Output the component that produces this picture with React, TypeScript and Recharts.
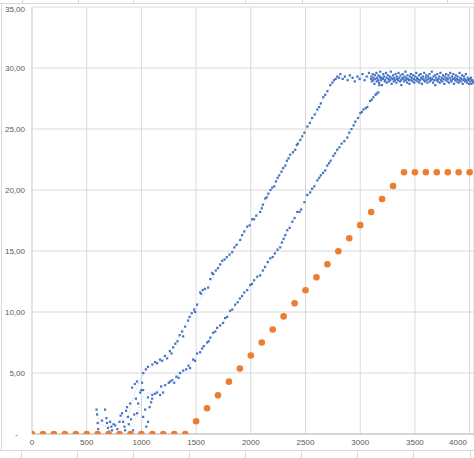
import { ScatterChart, Scatter, XAxis, YAxis, CartesianGrid } from "recharts";

const xTicks = [0, 500, 1000, 1500, 2000, 2500, 3000, 3500, 4000];
const yTicks = [0, 5, 10, 15, 20, 25, 30, 35];

// orange series: one value every 100 on x
const orangeX = [
  0, 100, 200, 300, 400, 500, 600, 700, 800, 900, 1000, 1100, 1200, 1300, 1400,
  1500, 1600, 1700, 1800, 1900, 2000, 2100, 2200, 2300, 2400, 2500, 2600, 2700,
  2800, 2900, 3000, 3100, 3200, 3300, 3400, 3500, 3600, 3700, 3800, 3900, 4000,
];
const orangeY = [
  0, 0, 0, 0, 0, 0, 0, 0, 0, 0, 0, 0, 0, 0, 0,
  1.04, 2.11, 3.17, 4.29, 5.36, 6.43, 7.5, 8.57, 9.64, 10.71, 11.78, 12.84, 13.91,
  14.98, 16.05, 17.12, 18.19, 19.26, 20.33, 21.45, 21.45, 21.45, 21.45, 21.45, 21.45, 21.45,
];

// blue series in pieces
const blueStart: [number, number][] = [
  [590, 2.0], [595, 1.6], [600, 0.9], [605, 0.4], [640, 1.1], [668, 2.0], [680, 1.3],
  [686, 0.9], [695, 0.5], [705, 0.2], [714, 1.0], [725, 0.6], [732, 0.3], [745, 0.8],
  [760, 0.7], [780, 0.4], [800, 1.0], [810, 1.5], [823, 1.7], [833, 1.0], [845, 0.6],
  [851, 0.3], [860, 1.9], [869, 2.2], [878, 1.4], [885, 0.8], [897, 2.5], [905, 1.2],
  [924, 0.3], [935, 1.6], [950, 2.9], [961, 1.7], [970, 2.5], [988, 3.4], [1016, 1.4],
  [1034, 2.0], [1045, 0.6], [1061, 1.0], [1075, 2.2], [1089, 2.6], [1098, 2.9],
];
const blueRiseA: [number, number][] = [
  [915, 3.8], [940, 4.1], [960, 4.3], [1006, 4.2], [1016, 5.0], [1040, 5.3], [1060, 5.5],
  [1100, 5.7], [1125, 5.9], [1144, 5.8], [1170, 6.1], [1190, 6.0], [1215, 6.4], [1235, 6.2],
  [1260, 6.8], [1275, 6.6], [1290, 7.1], [1310, 7.4], [1330, 7.6], [1350, 8.1], [1372, 8.4],
  [1382, 8.0], [1400, 8.8], [1427, 9.3], [1440, 9.6], [1460, 9.9], [1482, 10.2], [1491, 10.0],
  [1509, 10.6], [1537, 11.6], [1546, 11.5], [1560, 11.8], [1580, 11.9], [1610, 12.0],
  [1630, 12.7], [1647, 13.2], [1656, 13.1], [1680, 13.4], [1700, 13.6], [1720, 13.9],
  [1738, 14.2], [1760, 14.3], [1780, 14.5], [1805, 14.7], [1830, 14.9], [1850, 15.3],
  [1870, 15.5], [1903, 15.9], [1920, 16.3], [1940, 16.6], [1967, 17.0], [1990, 17.1],
  [2013, 17.6], [2030, 17.6], [2050, 17.9], [2086, 18.2], [2100, 18.5], [2110, 18.8],
  [2132, 19.3], [2145, 19.4], [2160, 19.7], [2180, 20.0], [2196, 20.2], [2215, 20.3],
  [2230, 20.7], [2245, 21.0], [2260, 21.2], [2280, 21.5], [2296, 21.8], [2315, 22.0],
  [2330, 22.4], [2345, 22.6], [2360, 22.9], [2385, 23.1], [2406, 23.3], [2420, 23.7],
  [2430, 23.8], [2452, 24.1], [2470, 24.4], [2490, 24.7], [2516, 25.2], [2540, 25.5],
  [2560, 25.9], [2585, 26.2], [2608, 26.6], [2625, 26.8], [2640, 27.1], [2662, 27.6],
  [2680, 27.8], [2700, 28.1], [2726, 28.6], [2745, 28.8], [2760, 29.0], [2775, 29.1],
  [2790, 29.3], [2805, 29.2], [2818, 29.5],
];
const blueRiseB: [number, number][] = [
  [1000, 3.6], [1016, 3.6], [1060, 3.0], [1100, 3.2], [1125, 3.3], [1144, 3.4], [1171, 3.2],
  [1180, 3.9], [1198, 3.4], [1217, 4.0], [1250, 4.2], [1262, 4.3], [1281, 4.4], [1300, 4.2],
  [1320, 4.7], [1340, 4.6], [1354, 5.0], [1382, 5.2], [1410, 5.3], [1430, 5.6], [1445, 5.4],
  [1473, 6.1], [1490, 6.0], [1509, 6.6], [1537, 6.7], [1555, 7.0], [1570, 7.2], [1601, 7.5],
  [1615, 7.6], [1630, 7.9], [1656, 8.3], [1675, 8.4], [1692, 8.7], [1720, 8.9], [1747, 9.1],
  [1765, 9.5], [1784, 9.6], [1810, 10.1], [1830, 10.2], [1857, 10.6], [1880, 10.8],
  [1900, 11.1], [1920, 11.3], [1940, 11.6], [1967, 11.8], [1994, 12.2], [2010, 12.3],
  [2030, 12.6], [2059, 12.9], [2086, 13.0], [2110, 13.4], [2130, 13.7], [2155, 14.1],
  [2178, 14.4], [2200, 14.5], [2220, 14.8], [2245, 15.1], [2269, 15.3], [2285, 15.7],
  [2300, 16.0], [2315, 16.3], [2333, 16.7], [2355, 16.9], [2380, 17.4], [2400, 17.7],
  [2425, 18.2], [2445, 18.2], [2461, 18.4], [2490, 19.0], [2516, 19.6], [2543, 19.8],
  [2560, 20.1], [2580, 20.3], [2608, 20.8], [2625, 21.0], [2640, 21.2], [2660, 21.4],
  [2680, 21.6], [2699, 22.0], [2715, 22.2], [2730, 22.4], [2754, 22.8], [2770, 23.0],
  [2790, 23.3], [2810, 23.5], [2830, 23.8], [2855, 24.0], [2882, 24.3], [2900, 24.7],
  [2920, 25.0], [2940, 25.3], [2955, 25.6], [2980, 25.9], [3001, 26.3], [3015, 26.4],
  [3030, 26.6], [3050, 26.7], [3065, 26.8], [3090, 27.3], [3105, 27.4], [3120, 27.6],
  [3140, 27.8], [3150, 27.9], [3166, 28.0], [3175, 28.6], [3184, 29.2],
];
const bluePlateau: [number, number][] = [
  [2840, 29.1], [2860, 29.3], [2885, 29.0], [2905, 29.4], [2930, 29.2], [2950, 28.9],
  [2975, 29.3], [2995, 29.1], [3020, 29.5], [3040, 29.0], [3060, 29.3], [3080, 29.6],
  [3100, 29.1], [3102, 29.3], [3106, 28.9], [3115, 29.5], [3119, 29.0], [3121, 29.2],
  [3130, 28.7], [3134, 29.4], [3139, 29.1], [3148, 29.6], [3151, 28.9], [3155, 29.2],
  [3164, 29.0], [3166, 29.4], [3172, 28.8], [3179, 29.3], [3183, 29.7], [3190, 29.0],
  [3197, 29.2], [3199, 28.6], [3208, 29.1], [3211, 29.5], [3218, 29.3], [3224, 28.9],
  [3227, 29.0], [3236, 29.6], [3240, 29.2], [3243, 28.8], [3252, 29.4], [3258, 29.1],
  [3261, 28.9], [3269, 29.3], [3274, 29.0], [3280, 29.7], [3285, 29.2], [3287, 28.7],
  [3296, 29.1], [3301, 29.4], [3306, 28.9], [3312, 29.2], [3318, 29.0], [3323, 29.5],
  [3330, 28.8], [3335, 29.3], [3338, 29.1], [3347, 29.0], [3350, 29.6], [3357, 29.2],
  [3362, 28.9], [3368, 29.4], [3374, 29.0], [3376, 28.6], [3385, 29.2], [3388, 29.5],
  [3395, 29.1], [3401, 28.9], [3404, 29.3], [3413, 29.7], [3418, 29.0], [3420, 29.2],
  [3429, 28.8], [3433, 29.4], [3438, 29.1], [3446, 29.0], [3450, 28.7], [3455, 29.3],
  [3463, 29.5], [3467, 29.0], [3471, 29.2], [3480, 28.9], [3484, 29.4], [3490, 29.1],
  [3494, 28.8], [3502, 29.3], [3507, 29.0], [3512, 29.6], [3519, 29.2], [3524, 28.9],
  [3528, 29.1], [3537, 29.4], [3540, 28.8], [3547, 29.0], [3553, 29.5], [3557, 29.2],
  [3564, 28.7], [3570, 29.1], [3573, 29.3], [3582, 29.0], [3585, 29.6], [3591, 28.9],
  [3598, 29.2], [3603, 29.4], [3607, 29.0], [3615, 28.8], [3619, 29.3], [3624, 29.1],
  [3633, 29.5], [3636, 28.9], [3641, 29.2], [3648, 29.0], [3654, 29.7], [3659, 29.1],
  [3666, 28.8], [3670, 29.3], [3677, 29.0], [3683, 29.4], [3686, 28.6], [3695, 29.2],
  [3698, 29.0], [3704, 29.5], [3711, 28.9], [3716, 29.1], [3722, 29.3], [3727, 28.8],
  [3733, 29.6], [3740, 29.0], [3744, 29.2], [3749, 28.9], [3757, 29.4], [3761, 29.1],
  [3768, 28.7], [3772, 29.3], [3779, 29.0], [3785, 29.5], [3788, 29.2], [3797, 28.9],
  [3800, 29.1], [3806, 29.4], [3813, 28.8], [3818, 29.2], [3823, 29.6], [3830, 29.0],
  [3836, 28.9], [3839, 29.3], [3848, 29.1], [3851, 29.5], [3857, 28.7], [3864, 29.2],
  [3868, 29.0], [3874, 29.4], [3881, 28.9], [3886, 29.1], [3890, 29.3], [3899, 28.8],
  [3902, 29.0], [3908, 29.6], [3915, 29.2], [3919, 28.9], [3925, 29.1], [3931, 29.4],
  [3937, 28.7], [3942, 29.0], [3949, 29.3], [3953, 29.1], [3959, 28.9], [3966, 29.5],
  [3970, 29.0], [3976, 28.8], [3983, 29.2], [3987, 29.0], [3994, 28.7], [4000, 29.1],
  [4006, 28.9], [4013, 29.2], [4016, 28.7], [4022, 29.0], [4029, 28.8], [4035, 28.9],
];

// faint dotted paths running along the two blue branches
const trendA: [number, number][] = [
  [600, 1.8], [620, 0.8], [700, 0.6], [760, 0.7], [820, 1.2], [880, 1.5], [920, 2.8],
  [960, 3.9], [1000, 4.6], [1060, 5.4], [1140, 5.8], [1230, 6.3], [1300, 7.3], [1400, 8.9],
  [1500, 10.4], [1600, 11.9], [1700, 13.6], [1800, 14.6], [1900, 15.9], [2000, 17.4],
  [2100, 18.5], [2200, 20.2], [2300, 21.8], [2400, 23.2], [2500, 24.9], [2600, 26.4],
  [2700, 28.1], [2790, 29.2], [3000, 29.2], [3400, 29.1], [4040, 29.0],
];
const trendB: [number, number][] = [
  [900, 0.6], [960, 1.5], [1000, 2.7], [1040, 3.4], [1100, 3.3], [1200, 3.9], [1300, 4.5],
  [1400, 5.2], [1500, 6.4], [1600, 7.5], [1700, 8.7], [1800, 9.8], [1900, 11.1],
  [2000, 12.2], [2100, 13.2], [2200, 14.6], [2300, 16.0], [2400, 17.8], [2500, 19.2],
  [2600, 20.6], [2700, 21.9], [2800, 23.4], [2900, 24.6], [3000, 26.2], [3100, 27.4],
  [3170, 28.4], [3190, 29.1],
];

const toPoints = (pts: [number, number][]) => pts.map(([x, y]) => ({ x, y }));
const orangeData = orangeX.map((x, i) => ({ x, y: orangeY[i] }));
const blueData = toPoints([...blueStart, ...blueRiseA, ...blueRiseB, ...bluePlateau]);

const BLUE = "#4472C4";
const ORANGE = "#ED7D31";
const GRID = "#d9d9d9";
const TEXT = "#595959";
const FONT = "'Liberation Sans', Arial, sans-serif";

const bottomTicks = [21, 77, 133, 189, 245, 301, 357, 413, 470];
const topTicks = [22, 78, 133, 245, 302, 447];

function YTick(props: any) {
  const { x, y, payload } = props;
  const v = payload.value as number;
  const label = v === 0 ? "-" : v.toFixed(2).replace(".", ",");
  return (
    <text x={v === 0 ? x - 7 : x} y={y} dy={3} textAnchor="end" fontSize={8} fill={TEXT} fontFamily={FONT}>
      {label}
    </text>
  );
}

function XTick(props: any) {
  const { x, y, payload } = props;
  return (
    <text x={x} y={y} dy={6} textAnchor="middle" fontSize={8} fill={TEXT} fontFamily={FONT}>
      {payload.value}
    </text>
  );
}

const BlueMark = (p: any) => <rect x={p.cx - 1.1} y={p.cy - 1.1} width={2.2} height={2.2} fill={BLUE} />;
const OrangeMark = (p: any) => <circle cx={p.cx} cy={p.cy} r={3.3} fill={ORANGE} />;
const NoMark = () => <g />;

export default function App() {
  return (
    <div style={{ position: "absolute", left: 0, top: 0, width: 474, height: 458, background: "#fff", overflow: "hidden" }}>
      {/* chart frame and sheet cell lines around it */}
      <div style={{ position: "absolute", left: 0, top: 3, width: 474, height: 1, background: GRID }} />
      <div style={{ position: "absolute", left: 1, top: 3, width: 1, height: 448, background: GRID }} />
      <div style={{ position: "absolute", left: 0, top: 450, width: 474, height: 1, background: GRID }} />
      {topTicks.map((t) => (
        <div key={"t" + t} style={{ position: "absolute", left: t, top: 0, width: 1, height: 3, background: GRID }} />
      ))}
      {bottomTicks.map((t) => (
        <div key={"b" + t} style={{ position: "absolute", left: t, top: 451, width: 1, height: 7, background: GRID }} />
      ))}
      <div style={{ position: "absolute", left: 0, top: 0 }}>
        <ScatterChart width={474} height={458} margin={{ top: 7, right: 0, bottom: 8, left: 0 }}>
          <CartesianGrid stroke={GRID} strokeWidth={1} />
          <XAxis
            type="number"
            dataKey="x"
            domain={[0, 4040]}
            ticks={xTicks}
            allowDataOverflow
            height={16}
            axisLine={{ stroke: "#bfbfbf" }}
            tickLine={false}
            tickSize={3}
            tickMargin={2}
            tick={<XTick />}
          />
          <YAxis
            type="number"
            dataKey="y"
            domain={[0, 35]}
            ticks={yTicks}
            allowDataOverflow
            width={32}
            axisLine={{ stroke: GRID }}
            tickLine={false}
            tickSize={5}
            tickMargin={2}
            tick={<YTick />}
          />
          <Scatter
            data={toPoints(trendA)}
            line={{ stroke: "#b4c7e7", strokeWidth: 1, strokeDasharray: "1 2" }}
            shape={NoMark}
            isAnimationActive={false}
          />
          <Scatter
            data={toPoints(trendB)}
            line={{ stroke: "#b4c7e7", strokeWidth: 1, strokeDasharray: "1 2" }}
            shape={NoMark}
            isAnimationActive={false}
          />
          <Scatter data={blueData} shape={BlueMark} isAnimationActive={false} />
          <Scatter data={orangeData} shape={OrangeMark} isAnimationActive={false} />
        </ScatterChart>
      </div>
    </div>
  );
}
